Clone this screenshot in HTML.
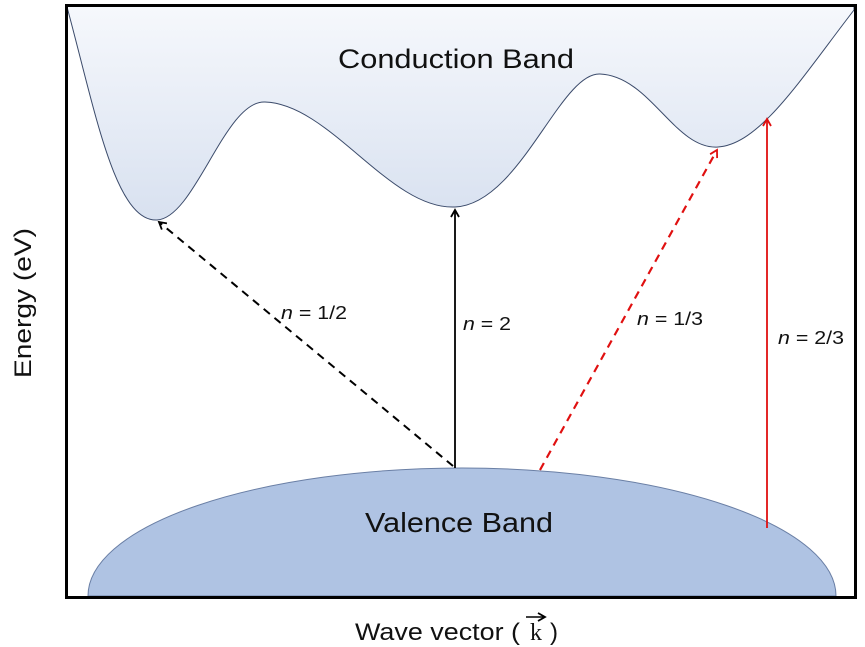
<!DOCTYPE html>
<html><head><meta charset="utf-8"><style>html,body{margin:0;padding:0;background:#fff}svg{display:block}</style></head>
<body>
<svg width="865" height="647" viewBox="0 0 865 647" xmlns="http://www.w3.org/2000/svg" font-family="Liberation Sans, Arial, sans-serif">
<defs>
<linearGradient id="cg" x1="0" y1="0" x2="0" y2="1">
<stop offset="0" stop-color="#f6f8fc"/><stop offset="1" stop-color="#d8e1f0"/>
</linearGradient>
<marker id="ak" markerWidth="10" markerHeight="10" refX="8" refY="5" orient="auto" markerUnits="userSpaceOnUse"><path d="M1,1 L8,5 L1,9" fill="none" stroke="#000" stroke-width="1.8"/></marker>
<marker id="ar" markerWidth="10" markerHeight="10" refX="8" refY="5" orient="auto" markerUnits="userSpaceOnUse"><path d="M1,1 L8,5 L1,9" fill="none" stroke="#e01010" stroke-width="1.8"/></marker>
</defs>
<path d="M67,7 C95,110 115,222 157,220 C195,218 225,100 265,102 C330,104 390,210 455,207 C520,204 560,72 600,74 C650,76 675,150 718,147 C760,144 800,80 854,10 L854,6 L67,6 Z" fill="url(#cg)" stroke="#3a4a6a" stroke-width="1"/>
<path d="M88,596 A374,128 0 0 1 836,596 Z" fill="#afc3e3" stroke="#6a7fa5" stroke-width="1"/>
<rect x="66.5" y="5.5" width="789" height="592" fill="none" stroke="#000" stroke-width="3"/>
<text x="338" y="68" font-size="27" textLength="236" lengthAdjust="spacingAndGlyphs" fill="#111">Conduction Band</text>
<text x="365" y="532" font-size="28" textLength="188" lengthAdjust="spacingAndGlyphs" fill="#111">Valence Band</text>
<line x1="453" y1="466" x2="159" y2="222" stroke="#000" stroke-width="2" stroke-dasharray="8,6" marker-end="url(#ak)"/>
<line x1="455" y1="468" x2="455" y2="210" stroke="#000" stroke-width="1.8" marker-end="url(#ak)"/>
<line x1="540" y1="470" x2="717" y2="150" stroke="#e01010" stroke-width="2.2" stroke-dasharray="8,6" marker-end="url(#ar)"/>
<line x1="767" y1="528" x2="767" y2="119" stroke="#e01010" stroke-width="1.8" marker-end="url(#ar)"/>
<g font-size="18" fill="#111">
<text x="281" y="319" textLength="66" lengthAdjust="spacingAndGlyphs"><tspan font-style="italic">n</tspan> = 1/2</text>
<text x="463" y="330" textLength="48" lengthAdjust="spacingAndGlyphs"><tspan font-style="italic">n</tspan> = 2</text>
<text x="637" y="325" textLength="66" lengthAdjust="spacingAndGlyphs"><tspan font-style="italic">n</tspan> = 1/3</text>
<text x="778" y="344" textLength="66" lengthAdjust="spacingAndGlyphs"><tspan font-style="italic">n</tspan> = 2/3</text>
</g>
<text transform="translate(31,378) rotate(-90)" font-size="24" textLength="150" lengthAdjust="spacingAndGlyphs" fill="#111">Energy (eV)</text>
<text x="355" y="640" font-size="24" textLength="165" lengthAdjust="spacingAndGlyphs" fill="#111">Wave vector (</text>
<text x="530" y="640" font-size="24" font-family="Liberation Serif, serif" fill="#111">k</text>
<text x="550" y="640" font-size="24" fill="#111">)</text>
<line x1="526" y1="617" x2="545" y2="617" stroke="#000" stroke-width="1.6" marker-end="url(#ak)"/>
</svg>
</body></html>
